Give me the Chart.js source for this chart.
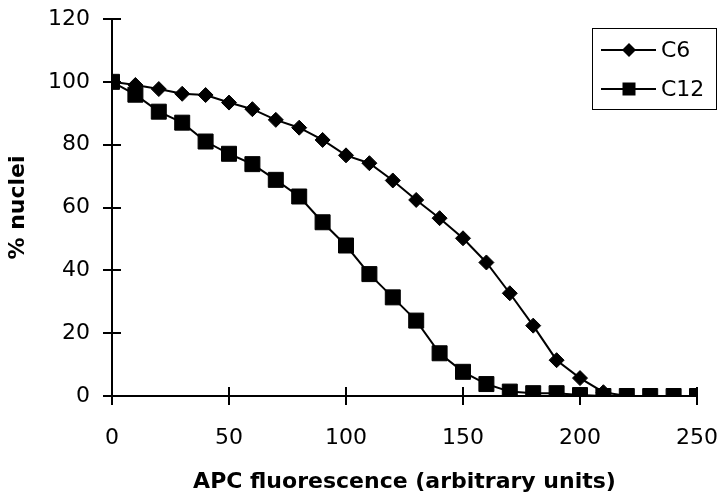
<!DOCTYPE html>
<html>
<head>
<meta charset="utf-8">
<script src="https://cdn.jsdelivr.net/npm/chart.js@4/dist/chart.umd.min.js"></script>
<style>
html,body{margin:0;padding:0;background:#fff;}
#wrap{width:721px;height:499px;}
</style>
</head>
<body>
<div id="wrap"><canvas id="c" width="721" height="499"></canvas></div>
<script>
// ---- data ----
const xValues = [0,10,20,30,40,50,60,70,80,90,100,110,120,130,140,150,160,170,180,190,200,210,220,230,240,250];
const c6Values = [100,99,97.7,96.2,95.8,93.4,91.3,87.9,85.4,81.5,76.6,74.1,68.6,62.4,56.6,50.2,42.5,32.7,22.4,11.4,5.7,1.2,0,0,0,0];
const c12Values = [100,95.9,90.5,87.0,81.0,77.1,73.8,68.8,63.5,55.3,47.9,38.8,31.4,24.0,13.6,7.7,3.8,1.4,0.9,0.9,0.3,0,0,0,0,0];
const seriesNames = ['C6','C12'];
const xTicks = [0,50,100,150,200,250];
const yTicks = [0,20,40,60,80,100,120];
const xTitle = 'APC fluorescence (arbitrary units)';
const yTitle = '% nuclei';

const toPts = (vals) => xValues.map((x,i)=>({x:x,y:vals[i]}));

const tickFont = {family:'"DejaVu Sans"', size:22};
const titleFont = {family:'"DejaVu Sans"', size:22, weight:'bold'};

// inward half of crossing ticks
const crossTicks = {
  id:'crossTicks',
  afterDraw(chart){
    const ctx = chart.ctx, xs = chart.scales.x, ys = chart.scales.y;
    const a = chart.chartArea;
    ctx.save();
    ctx.strokeStyle = '#000'; ctx.lineWidth = 2;
    ctx.beginPath();
    xTicks.forEach(v=>{const p = Math.round(xs.getPixelForValue(v)); ctx.moveTo(p, a.bottom); ctx.lineTo(p, a.bottom-9);});
    yTicks.forEach(v=>{const p = Math.round(ys.getPixelForValue(v)); ctx.moveTo(a.left, p); ctx.lineTo(a.left+9, p);});
    ctx.stroke();
    ctx.restore();
  }
};

// legend with line + marker
const lineLegend = {
  id:'lineLegend',
  afterDraw(chart){
    const ctx = chart.ctx;
    ctx.save();
    ctx.fillStyle = '#fff';
    ctx.fillRect(592.5, 28.5, 124, 81);
    ctx.strokeStyle = '#000'; ctx.lineWidth = 1;
    ctx.strokeRect(592.5, 28.5, 124, 81);
    const rows = [50, 89];
    chart.data.datasets.forEach(ds=>{
      const idx = seriesNames.indexOf(ds.label);
      const y = rows[idx];
      ctx.strokeStyle = '#000'; ctx.lineWidth = 2;
      ctx.beginPath(); ctx.moveTo(601, y); ctx.lineTo(656, y); ctx.stroke();
      ctx.fillStyle = '#000';
      ctx.beginPath();
      if (ds.pointStyle === 'rectRot') {
        const r = 7;
        ctx.moveTo(629, y-r); ctx.lineTo(629+r, y); ctx.lineTo(629, y+r); ctx.lineTo(629-r, y); ctx.closePath();
      } else {
        ctx.rect(622.5, y-6.5, 13, 13);
      }
      ctx.fill();
      ctx.font = '22px "DejaVu Sans"';
      ctx.textBaseline = 'middle';
      ctx.textAlign = 'left';
      ctx.fillText(ds.label, 661, y+1);
    });
    ctx.restore();
  }
};

new Chart(document.getElementById('c'), {
  type:'line',
  data:{
    datasets:[
      {label:seriesNames[1], data:toPts(c12Values), borderColor:'#000', backgroundColor:'#000', borderWidth:2,
       pointStyle:'rect', pointRadius:10.6, pointBorderWidth:1, pointBorderColor:'#000', pointBackgroundColor:'#000', order:0, tension:0},
      {label:seriesNames[0], data:toPts(c6Values), borderColor:'#000', backgroundColor:'#000', borderWidth:2,
       pointStyle:'rectRot', pointRadius:7.5, pointBorderWidth:1, pointBorderColor:'#000', pointBackgroundColor:'#000', order:1, tension:0}
    ]
  },
  options:{
    responsive:false, animation:false, devicePixelRatio:1,
    layout:{padding:{top:19, right:24, left:0, bottom:0}},
    plugins:{legend:{display:false}, tooltip:{enabled:false}},
    scales:{
      x:{type:'linear', min:0, max:250,
         afterBuildTicks(s){ s.ticks = xTicks.map(v=>({value:v})); },
         ticks:{font:tickFont, color:'#000', padding:20, maxRotation:0},
         grid:{drawOnChartArea:false, tickLength:9, color:'#000', lineWidth:2},
         border:{color:'#000', width:2},
         title:{display:true, text:xTitle, font:titleFont, color:'#000', padding:{top:0, bottom:4}},
         afterFit(s){ s.height = 103; s.paddingLeft = 0; s.paddingRight = 0; }
      },
      y:{type:'linear', min:0, max:120,
         afterBuildTicks(s){ s.ticks = yTicks.map(v=>({value:v})); },
         ticks:{font:tickFont, color:'#000', padding:13},
         grid:{drawOnChartArea:false, tickLength:9, color:'#000', lineWidth:2},
         border:{color:'#000', width:2},
         title:{display:true, text:yTitle, font:titleFont, color:'#000', padding:{top:5, bottom:0}},
         afterFit(s){ s.width = 112; s.paddingTop = 0; s.paddingBottom = 0; }
      }
    }
  },
  plugins:[crossTicks, lineLegend]
});
</script>
</body>
</html>
